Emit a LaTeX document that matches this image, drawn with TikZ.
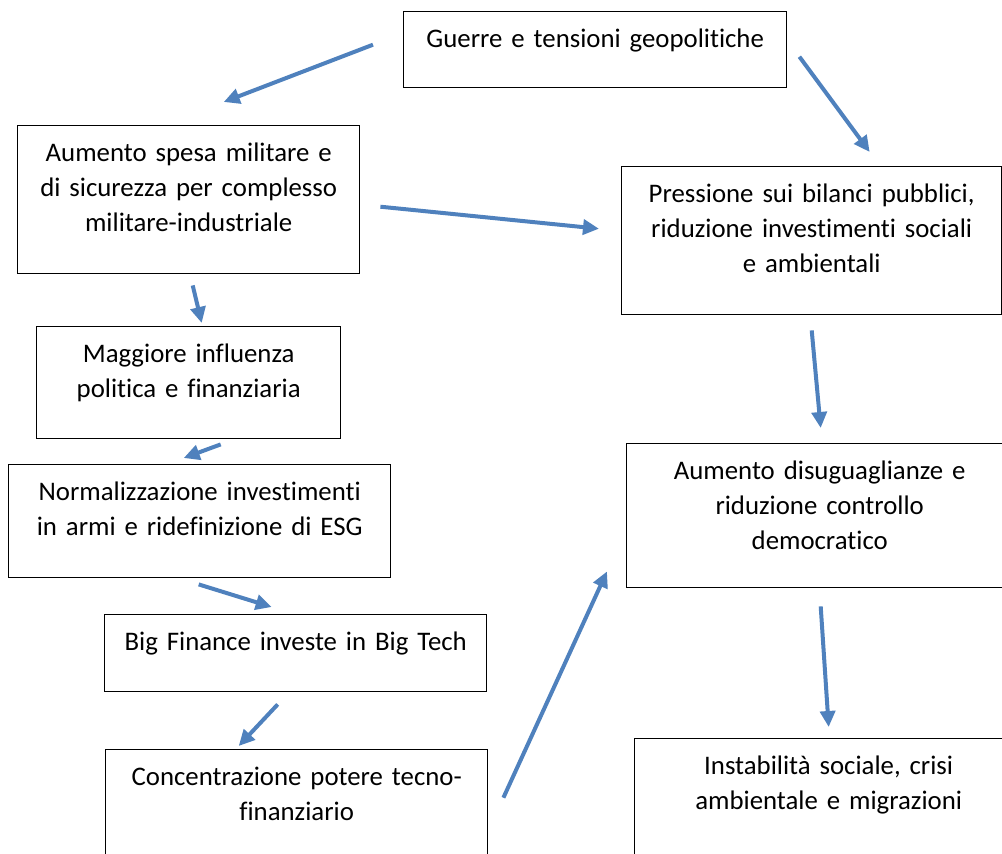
\documentclass[tikz,border=0pt]{standalone}
\usepackage{fontspec}
\setmainfont{Carlito}[Ligatures=NoCommon]
\usepackage{tikz}
\usetikzlibrary{arrows.meta}
\definecolor{arrowblue}{RGB}{79,129,189}

\begin{document}
\begin{tikzpicture}[x=1pt, y=-1pt,
  box/.style={draw, line width=1.4pt, anchor=north west, align=center,
              inner xsep=0pt, inner ysep=0pt, text height=36pt,
              font=\fontsize{26.8pt}{35pt}\selectfont},
  link/.style={draw=arrowblue, line width=4pt,
               -{Triangle[length=16pt, width=15pt]}}]
  \useasboundingbox (0,0) rectangle (1002,854);
  \clip (0,0) rectangle (1002,854);
  % colonna sinistra
  \node[box, text width=342pt, text depth=112pt] (spesa) at (17,125)
      {Aumento spesa militare e\\ di sicurezza per complesso\\ militare-industriale};
  \node[box, text width=304pt, text depth=76pt]  (influenza) at (36,326)
      {Maggiore influenza\\ politica e finanziaria};
  \node[box, text width=382pt, text depth=77pt]  (normal) at (8,464)
      {Normalizzazione investimenti\\ in armi e ridefinizione di ESG};
  \node[box, text width=382pt, text depth=41pt]  (bigfin) at (104,614)
      {Big Finance investe in Big Tech};
  \node[box, text width=382pt, text depth=112pt] (concent) at (105,749)
      {Concentrazione potere tecno-\\ finanziario};
  % colonna destra
  \node[box, text width=383pt, text depth=40pt]  (guerre) at (403,11)
      {Guerre e tensioni geopolitiche};
  \node[box, text width=380pt, text depth=112pt] (bilanci) at (621,166)
      {Pressione sui bilanci pubblici,\\ riduzione investimenti sociali\\ e ambientali};
  \node[box, text width=386pt, text depth=108pt] (disug) at (626,443)
      {Aumento disuguaglianze e\\ riduzione controllo\\ democratico};
  \node[box, text width=388pt, text depth=112pt] (instab) at (634,738)
      {Instabilità sociale, crisi\\ ambientale e migrazioni};
  % frecce
  \draw[link] ([shift={(-30,-5)}]guerre.west) -- ([shift={(35,-23)}]spesa.north);
  \draw[link] ([shift={(12,7)}]guerre.east) -- ([shift={(58,-14)}]bilanci.north);
  \draw[link] ([shift={(20,7)}]spesa.east) -- ([shift={(-22,-12)}]bilanci.west);
  \draw[link] ([shift={(4,11)}]spesa.south) -- ([shift={(13,-3)}]influenza.north);
  \draw[link] ([shift={(0,15)}]bilanci.south) -- ([shift={(1,-15)}]disug.north);
  \draw[link] ([shift={(32,5)}]influenza.south) -- ([shift={(-16,-6)}]normal.north);
  \draw[link] ([shift={(-1,6)}]normal.south) -- ([shift={(-24,-7)}]bigfin.north);
  \draw[link] ([shift={(-18,12)}]bigfin.south) -- ([shift={(-58,-3)}]concent.north);
  \draw[link] ([shift={(15,-26)}]concent.east) -- ([shift={(-19,-17)}]disug.south west);
  \draw[link] ([shift={(1,18)}]disug.south) -- ([shift={(0,-11)}]instab.north);
\end{tikzpicture}
\end{document}
